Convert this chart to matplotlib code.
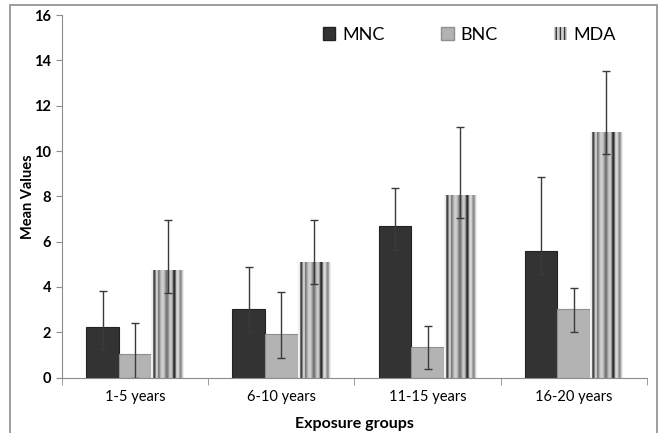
import numpy as np
import matplotlib.pyplot as plt
from matplotlib.patches import Rectangle, Patch

groups = ['1-5 years', '6-10 years', '11-15 years', '16-20 years']
mnc = [2.25, 3.02, 6.67, 5.59]
mnc_up = [1.58, 1.84, 1.72, 3.28]
mnc_lo = [1.00, 1.02, 1.03, 1.01]
bnc = [1.03, 1.92, 1.37, 3.02]
bnc_up = [1.37, 1.85, 0.91, 0.95]
bnc_lo = [1.03, 1.06, 1.00, 1.03]
mda = [4.75, 5.12, 8.07, 10.86]
mda_up = [2.21, 1.83, 3.01, 2.69]
mda_lo = [1.02, 1.00, 1.03, 1.00]

plt.rcParams['font.family'] = ['Lato', 'DejaVu Sans']

fig = plt.figure(figsize=(6.6, 4.33), dpi=100)
ax = fig.add_axes([0.094, 0.128, 0.886, 0.837])

# rahmen um die ganze grafik
fig.add_artist(Rectangle((10 / 660, -0.05), 647 / 660, 1.05 - 5 / 433,
                         transform=fig.transFigure, fill=False,
                         edgecolor='#8c8c8c', linewidth=1.2, zorder=10))

x = np.arange(len(groups))
w = 0.223
err_kw = dict(ecolor='#3a3a3a', elinewidth=1, capsize=3, capthick=1)

ax.bar(x - w, mnc, w, color='#333333', edgecolor='#222222', linewidth=0.8,
       yerr=[mnc_lo, mnc_up], error_kw=err_kw, zorder=2)
ax.bar(x, bnc, w, color='#b3b3b3', edgecolor='#8f8f8f', linewidth=0.8,
       yerr=[bnc_lo, bnc_up], error_kw=err_kw, zorder=2)

# gestreifte MDA-balken
stripes = np.array([0.95, 0.92, 0.15, 0.4, 0.8, 0.78, 0.45, 0.6, 0.75, 0.82,
                    0.8, 0.7, 0.55, 0.42, 0.55, 0.7, 0.8, 0.75, 0.55, 0.1,
                    0.3, 0.75, 0.85, 0.8, 0.6, 0.5, 0.8, 0.92])
for xi, v in zip(x + w, mda):
    ax.imshow(stripes[None, :], cmap='gray', vmin=0, vmax=1, aspect='auto',
              extent=(xi - w / 2, xi + w / 2, 0, v), zorder=2,
              interpolation='bilinear')
ax.errorbar(x + w, mda, yerr=[mda_lo, mda_up], fmt='none', zorder=3, **err_kw)

ax.set_xlim(-0.5, 3.5)
ax.set_ylim(0, 16)
ax.set_aspect('auto')
ax.set_yticks(range(0, 17, 2))
ax.set_yticklabels([str(v) for v in range(0, 17, 2)], fontweight='bold',
                   fontsize=10.5)
ax.set_xticks(x)
ax.set_xticklabels(groups, fontsize=10.5)
ax.set_xticks(np.arange(-0.5, 4, 1), minor=True)
ax.tick_params(axis='x', which='major', length=0, pad=9)
ax.tick_params(axis='x', which='minor', length=5, color='#8c8c8c')
ax.tick_params(axis='y', length=4, color='#8c8c8c', pad=4)

for s in ['top', 'right']:
    ax.spines[s].set_visible(False)
for s in ['left', 'bottom']:
    ax.spines[s].set_color('#8c8c8c')

ax.set_ylabel('Mean Values', fontweight='bold', fontsize=10.5)
ax.yaxis.set_label_coords(-0.046, 0.5)
ax.set_xlabel('Exposure groups', fontweight='bold', fontsize=11.5)
ax.xaxis.set_label_coords(0.5, -0.11)

handles = [Patch(facecolor='#333333', edgecolor='#222222'),
           Patch(facecolor='#b3b3b3', edgecolor='#8f8f8f'),
           Patch(facecolor='#cfcfcf', edgecolor='#333333', hatch='||||', linewidth=0)]
ax.legend(handles, ['MNC', 'BNC', 'MDA'], ncol=3, frameon=False,
          loc='upper left', bbox_to_anchor=(0.418, 1.013), fontsize=13,
          handlelength=0.7, handleheight=0.7, columnspacing=3.1,
          handletextpad=0.4)

fig.savefig('out.png', dpi=100)
